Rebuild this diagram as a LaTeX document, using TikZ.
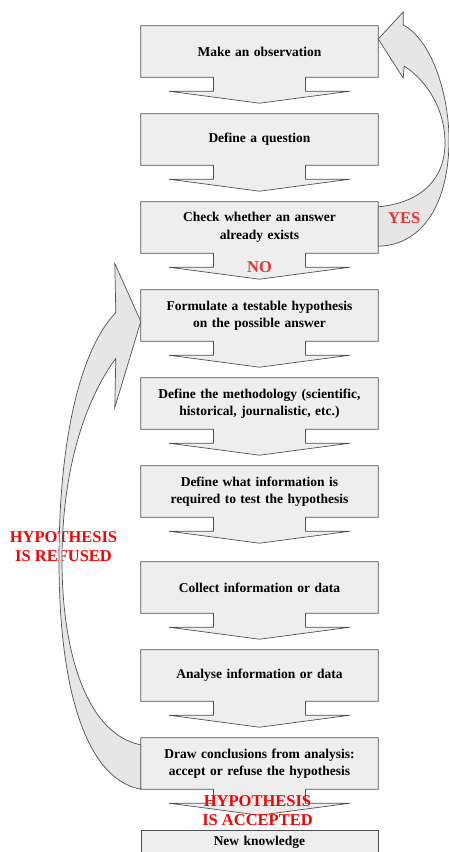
\documentclass[tikz,border=0pt]{standalone}
\usepackage{fontspec}
\setmainfont{Liberation Serif}
\usetikzlibrary{calc,positioning,backgrounds}

\definecolor{boxgray}{HTML}{EEEEEE}
\definecolor{bandgray}{HTML}{E6E6E6}
\definecolor{edgegray}{HTML}{505050}
\definecolor{labelred}{HTML}{E63232}
\definecolor{hypored}{HTML}{FF0000}

\tikzset{
  stepbox/.style={rectangle, minimum width=237pt, minimum height=51pt, text width=225pt,
    align=center, inner sep=0pt, font=\fontsize{13.5}{17.5}\selectfont\bfseries},
  callout/.style={draw=edgegray, fill=boxgray, line width=0.7pt},
  bendarrow/.style={draw=edgegray, fill=bandgray, line width=0.7pt},
  answer/.style={text=labelred, align=center, font=\fontsize{16.5}{19}\selectfont\bfseries},
  verdict/.style={answer, text=hypored}
}

\begin{document}
\begin{tikzpicture}[x=1pt, y=-1pt, node distance=88pt]
    \useasboundingbox (0,0) rectangle (449,852);
    \clip (0,0) rectangle (449,852);

    \node[stepbox] (obs) at (259.5,51.5) {Make an observation};
    \node[stepbox, below of=obs] (quest) {Define a question};
    \node[stepbox, below of=quest] (chk) {Check whether an answer\\ already exists};
    \node[stepbox, below of=chk] (hyp) {Formulate a testable hypothesis\\ on the possible answer};
    \node[stepbox, below of=hyp] (meth) {Define the methodology (scientific,\\ historical, journalistic, etc.)};
    \node[stepbox, below of=meth] (req) {Define what information is\\ required to test the hypothesis};
    \node[stepbox, below of=req, yshift=-8pt] (coll) {Collect information or data};
    \node[stepbox, below of=coll] (anal) {Analyse information or data};
    \node[stepbox, below of=anal] (concl) {Draw conclusions from analysis:\\ accept or refuse the hypothesis};
    \node[stepbox, below of=concl, yshift=9.5pt, minimum height=24pt, draw=edgegray, fill=boxgray,
      line width=0.7pt] (newk) {New knowledge};

    \begin{pgfonlayer}{background}
    \foreach \b in {obs,quest,chk,hyp,meth,req,coll,anal,concl}
        \draw[callout] (\b.north west) -- (\b.north east) -- (\b.south east)
          -- ($(\b.south)+(46,0)$) -- ++(0,14) -- ++(44.5,0) -- ($(\b.south)+(0,26)$)
          -- ($(\b.south)+(-90.5,14)$) -- ++(44.5,0) -- ($(\b.south)+(-46,0)$)
          -- (\b.south west) -- cycle;
    \end{pgfonlayer}

    \coordinate (yestip) at ($(obs.east)+(0,-12.5)$);
    \draw[bendarrow] ($(chk.north east)+(0,5)$) .. controls (420,203) and (445,180) .. (445,143)
      .. controls (445,110) and (428,82) .. ($(yestip)+(26,27)$) -- ($(yestip)+(25,39)$)
      -- (yestip) -- ($(yestip)+(25,-27)$) -- ($(yestip)+(25,-14)$)
      .. controls (432,40) and (449,95) .. (449,140)
      .. controls (449,200) and (425,245) .. ($(chk.south east)+(0,-7)$) -- cycle;

    \node[verdict] (refused) at (63.5,547) {HYPOTHESIS\\IS REFUSED};

    \coordinate (reftip) at ($(hyp.west)+(0,6)$);
    \draw[bendarrow] (concl.south west) .. controls (90,780) and (59,700) .. (59,560)
      .. controls (59,440) and (80,350) .. ($(reftip)+(-25,-9)$) -- ($(reftip)+(-26,-58)$)
      -- (reftip) -- ($(reftip)+(-26,86)$) -- ($(reftip)+(-25,37)$)
      .. controls (85,400) and (62,470) .. (62,560)
      .. controls (62,660) and (90,735) .. ($(concl.north west)+(0,7)$) -- cycle;

    \node[answer] (yes) at ($(chk.east)+(26,-9)$) {YES};
    \node[answer] (no) at ($(chk.south)+(0,14)$) {NO};
    \node[verdict] (accepted) at ($(concl.south)+(-2,21)$) {HYPOTHESIS\\IS ACCEPTED};
\end{tikzpicture}
\end{document}
